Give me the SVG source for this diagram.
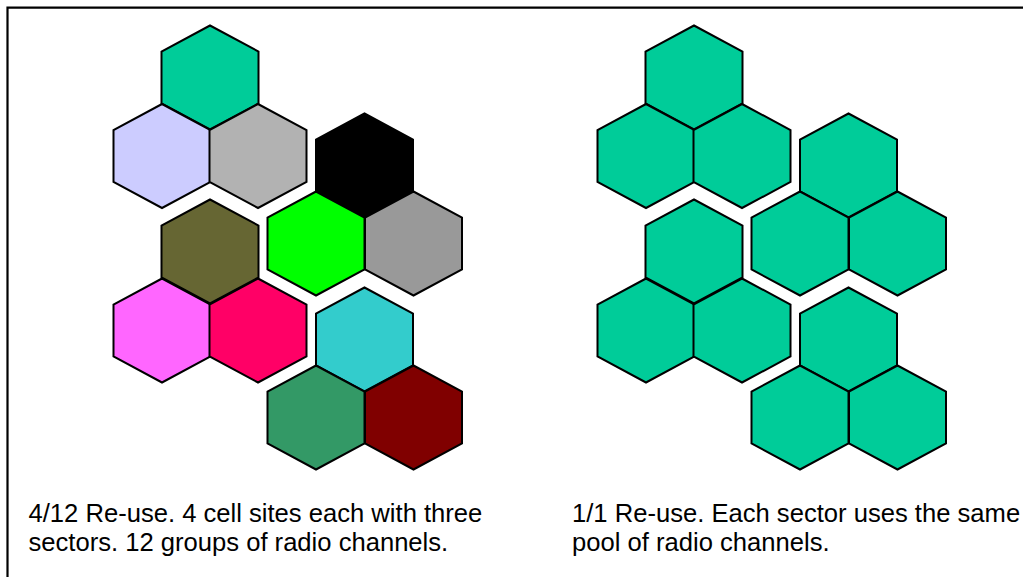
<svg xmlns="http://www.w3.org/2000/svg" xmlns:xlink="http://www.w3.org/1999/xlink" width="1023" height="577" viewBox="0 0 1023 577">
  <style>
    .hex { stroke: #000; stroke-width: 2; stroke-linejoin: miter; }
    .frame { fill: none; stroke: #000; stroke-width: 2.2; }
    .cap { font-family: "Liberation Sans", Arial, sans-serif; font-size: 25.6px; fill: #000; }
  </style>
  <defs>
    <path id="hx" d="M0,-52 L48.5,-26 L48.5,26 L0,52 L-48.5,26 L-48.5,-26 Z"/>
  </defs>
  <rect width="1023" height="577" fill="#fff"/>
  <path class="frame" d="M7.5,577 V7.7 H1023"/>

  <g id="reuse-4-12">
    <g id="site-a">
      <use xlink:href="#hx" href="#hx" class="hex" fill="#00CC99" x="210" y="77.5"/>
      <use xlink:href="#hx" href="#hx" class="hex" fill="#CCCCFF" x="162" y="156"/>
      <use xlink:href="#hx" href="#hx" class="hex" fill="#B2B2B2" x="258" y="156"/>
    </g>
    <g id="site-b">
      <use xlink:href="#hx" href="#hx" class="hex" fill="#000000" x="364.5" y="165.5"/>
      <use xlink:href="#hx" href="#hx" class="hex" fill="#00FF00" x="316" y="243.5"/>
      <use xlink:href="#hx" href="#hx" class="hex" fill="#999999" x="413.5" y="243.5"/>
    </g>
    <g id="site-c">
      <use xlink:href="#hx" href="#hx" class="hex" fill="#666633" x="210" y="251.5"/>
      <use xlink:href="#hx" href="#hx" class="hex" fill="#FF66FF" x="162" y="330.5"/>
      <use xlink:href="#hx" href="#hx" class="hex" fill="#FF0066" x="258" y="330.5"/>
    </g>
    <g id="site-d">
      <use xlink:href="#hx" href="#hx" class="hex" fill="#33CCCC" x="364.5" y="339.5"/>
      <use xlink:href="#hx" href="#hx" class="hex" fill="#339966" x="316" y="417.5"/>
      <use xlink:href="#hx" href="#hx" class="hex" fill="#800000" x="413.5" y="417.5"/>
    </g>
  </g>

  <g id="reuse-1-1" transform="translate(484,0)">
    <g id="site-a2">
      <use xlink:href="#hx" href="#hx" class="hex" fill="#00CC99" x="210" y="77.5"/>
      <use xlink:href="#hx" href="#hx" class="hex" fill="#00CC99" x="162" y="156"/>
      <use xlink:href="#hx" href="#hx" class="hex" fill="#00CC99" x="258" y="156"/>
    </g>
    <g id="site-b2">
      <use xlink:href="#hx" href="#hx" class="hex" fill="#00CC99" x="364.5" y="165.5"/>
      <use xlink:href="#hx" href="#hx" class="hex" fill="#00CC99" x="316" y="243.5"/>
      <use xlink:href="#hx" href="#hx" class="hex" fill="#00CC99" x="413.5" y="243.5"/>
    </g>
    <g id="site-c2">
      <use xlink:href="#hx" href="#hx" class="hex" fill="#00CC99" x="210" y="251.5"/>
      <use xlink:href="#hx" href="#hx" class="hex" fill="#00CC99" x="162" y="330.5"/>
      <use xlink:href="#hx" href="#hx" class="hex" fill="#00CC99" x="258" y="330.5"/>
    </g>
    <g id="site-d2">
      <use xlink:href="#hx" href="#hx" class="hex" fill="#00CC99" x="364.5" y="339.5"/>
      <use xlink:href="#hx" href="#hx" class="hex" fill="#00CC99" x="316" y="417.5"/>
      <use xlink:href="#hx" href="#hx" class="hex" fill="#00CC99" x="413.5" y="417.5"/>
    </g>
  </g>

  <g id="connectors"/>

  <g id="caption-left">
    <text class="cap" x="28.5" y="522">4/12 Re-use. 4 cell sites each with three</text>
    <text class="cap" x="28.5" y="550.5">sectors. 12 groups of radio channels.</text>
  </g>
  <g id="caption-right">
    <text class="cap" x="572" y="522">1/1 Re-use. Each sector uses the same</text>
    <text class="cap" x="572" y="550.5">pool of radio channels.</text>
  </g>
</svg>
